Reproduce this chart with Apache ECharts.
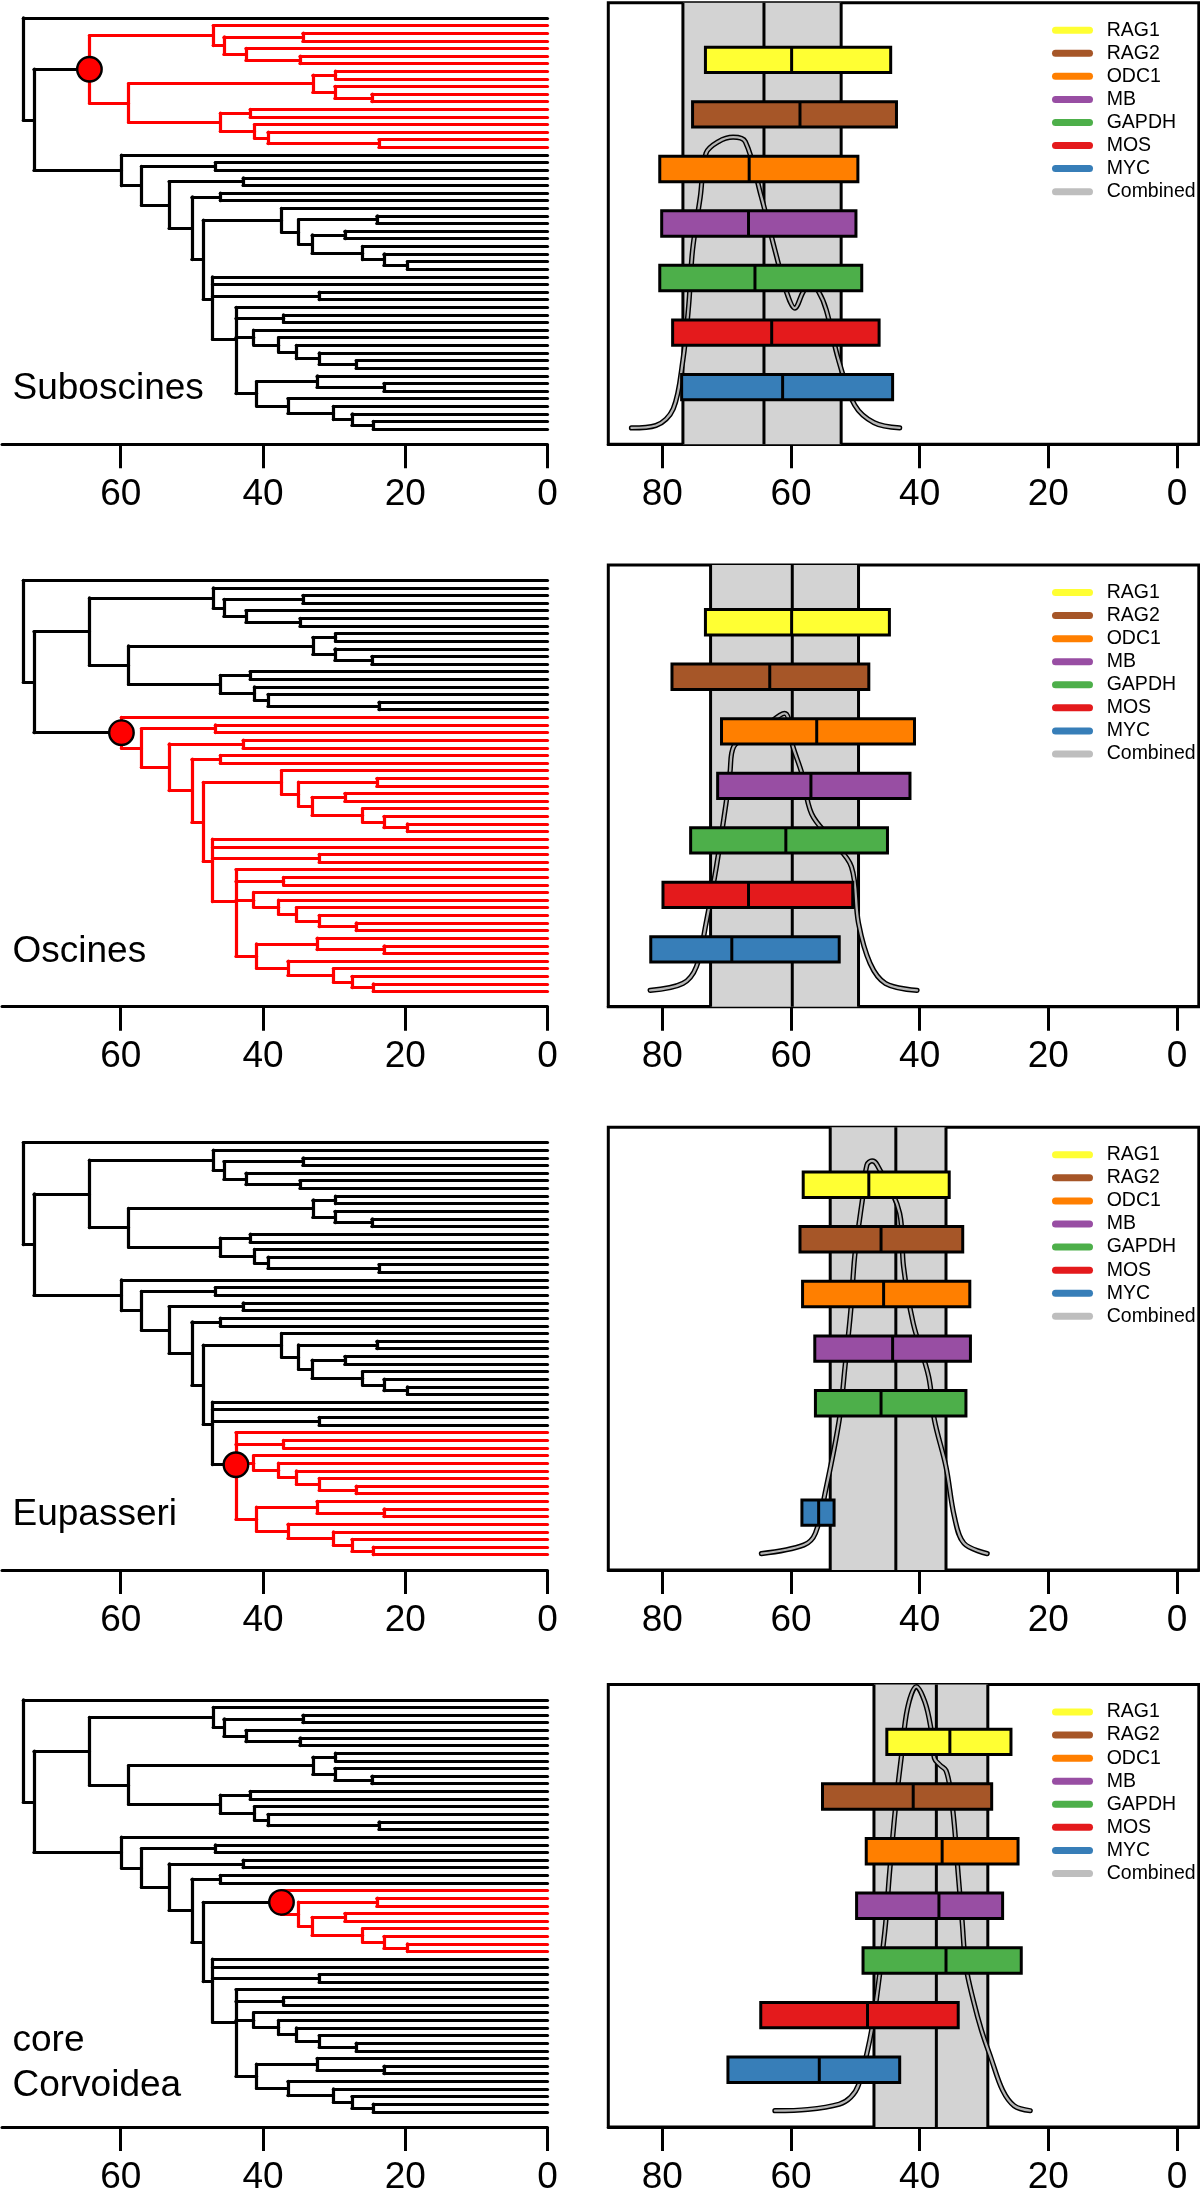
<!DOCTYPE html>
<html><head><meta charset="utf-8">
<script src="https://cdn.jsdelivr.net/npm/echarts@6/dist/echarts.min.js"></script>
<style>html,body{margin:0;padding:0;background:#fff}#c{width:1200px;height:2202px}</style>
</head><body><div id="c"></div><script>
// ---------------- DATA ----------------
// Time-calibrated tree: internal node = [age (Ma), ...children], tip = T
const T = 0;
const tree =
[73.7, T,
  [72.2,
    [64.4,
      [47.0, T,
        [45.5,
          [34.4, T, T],
          [42.4, T, [34.8, T, T]]]],
      [58.9,
        [33.0,
          [29.8, T, T],
          [29.9, T, [24.7, T, T]]],
        [46.0,
          [41.8, T, T],
          [41.2, T, [39.3, T, [23.7, T, T]]]]]],
    [59.9, T,
      [57.1,
        [46.7, T, T],
        [53.2,
          [42.8, T, T],
          [50.0,
            [46.0, T, T],
            [48.4,
              [37.4, T,
                [35.0,
                  [24.0, T, T],
                  [33.1,
                    [28.5, T, T],
                    [26.0, T, [23.0, T, [19.7, T, T]]]]]],
              [47.1, T, T,
                [32.1, T, T],
                [43.8, T,
                  [37.1, T, T],
                  [41.3, T, [37.8, T, [35.3, T, [32.1, T, [26.9, T, T]]]]],
                  [40.9,
                    [32.4, T, [23.0, T, T]],
                    [36.5, T, [30.1, T, [27.5, T, [24.5, T, T]]]]]]]]]]]]]];

const cladeNames = ['Suboscines', 'Oscines', 'Eupasseri', 'core\nCorvoidea'];
const cladeNodeAge = [64.4, 59.9, 43.8, 37.4];

const genes = ['RAG1', 'RAG2', 'ODC1', 'MB', 'GAPDH', 'MOS', 'MYC'];
const geneColors = ['#FFFF33', '#A65628', '#FF7F00', '#984EA3', '#4DAF4A', '#E41A1C', '#377EB8'];
const barPos = [0.9, 0.7667, 0.6333, 0.5, 0.3667, 0.2333, 0.1];
const treeTicks = [0, 20, 40, 60];
const ageTicks = [0, 20, 40, 60, 80];

// gene age estimates: older bound, median, younger bound (Ma)
const subOld   = [73.3, 75.3, 80.4, 80.1, 80.4, 78.4, 77.0];
const subMed   = [59.9, 58.6, 66.5, 66.6, 65.6, 63.0, 61.3];
const subYoung = [44.5, 43.6, 49.6, 49.9, 49.0, 46.3, 44.2];
const oscOld   = [73.3, 78.5, 70.8, 71.4, 75.6, 79.9, 81.8];
const oscMed   = [59.9, 63.3, 56.0, 56.9, 60.8, 66.6, 69.2];
const oscYoung = [44.7, 47.9, 40.8, 41.5, 45.0, 50.4, 52.5];
const eupOld   = [58.1, 58.6, 58.2, 56.3, 56.2, null, 58.3];
const eupMed   = [47.9, 46.0, 45.6, 44.2, 46.0, null, 55.7];
const eupYoung = [35.4, 33.3, 32.2, 32.1, 32.8, null, 53.3];
const corOld   = [45.1, 55.1, 48.3, 49.8, 48.8, 64.7, 69.8];
const corMed   = [35.3, 41.0, 36.5, 37.0, 35.9, 48.1, 55.6];
const corYoung = [25.8, 28.8, 24.7, 27.1, 24.2, 34.0, 43.1];

// combined estimate (grey band): older, median, younger
const combinedOld   = [76.8, 72.5, 53.9, 47.1];
const combinedMed   = [64.2, 59.8, 43.7, 37.4];
const combinedYoung = [52.2, 49.5, 35.9, 29.4];

// combined density curves (age, relative density)
const subDensX = [84.8, 81.0, 78.3, 76.8, 75.9, 75.3, 74.1, 73.2, 71.3, 69.0, 67.1, 64.6, 62.5, 60.7, 59.4, 58.1, 57.0, 55.7, 54.5, 52.6, 50.1, 47.1, 43.1];
const subDensY = [0.000, 0.006, 0.047, 0.166, 0.300, 0.435, 0.565, 0.672, 0.700, 0.711, 0.700, 0.565, 0.435, 0.333, 0.293, 0.333, 0.354, 0.333, 0.288, 0.166, 0.056, 0.013, 0.000];
const oscDensX = [81.9, 76.8, 74.7, 73.2, 71.6, 70.1, 69.5, 68.9, 64.7, 61.0, 59.7, 58.3, 56.8, 53.7, 50.6, 49.5, 47.7, 45.3, 40.4];
const oscDensY = [0.000, 0.017, 0.058, 0.164, 0.302, 0.457, 0.530, 0.596, 0.637, 0.677, 0.596, 0.530, 0.432, 0.368, 0.302, 0.164, 0.066, 0.017, 0.000];
const eupDensX = [64.6, 58.0, 56.2, 54.6, 52.5, 51.6, 50.7, 50.1, 49.2, 48.9, 48.2, 47.4, 46.6, 43.1, 42.5, 41.0, 38.6, 37.7, 35.9, 34.6, 33.1, 29.5];
const eupDensY = [0.000, 0.021, 0.050, 0.155, 0.326, 0.456, 0.594, 0.724, 0.830, 0.863, 0.948, 0.958, 0.948, 0.830, 0.700, 0.562, 0.432, 0.326, 0.212, 0.090, 0.025, 0.000];
const corDensX = [62.5, 57.4, 52.5, 50.7, 49.5, 48.0, 47.1, 46.2, 45.3, 44.7, 43.7, 42.8, 41.9, 40.5, 39.2, 38.3, 37.7, 36.8, 35.9, 35.2, 34.6, 34.0, 33.4, 32.8, 31.6, 30.4, 28.9, 27.1, 25.3, 22.8];
const corDensY = [0.000, 0.003, 0.016, 0.033, 0.063, 0.154, 0.231, 0.335, 0.455, 0.576, 0.748, 0.869, 0.981, 1.035, 0.998, 0.938, 0.860, 0.843, 0.830, 0.780, 0.696, 0.576, 0.464, 0.352, 0.266, 0.197, 0.128, 0.050, 0.012, 0.000];

// ---------------- LAYOUT / STYLE ----------------
const FONT = "'Liberation Sans', Arial, Helvetica, sans-serif";
const rowTop = [2.7, 565, 1127.3, 1684.5];
const rowHeight = [441.6, 441.7, 442.7, 442.6];
const labelCenter = [385.8, 386.8, 387.7, 378.8];
const LW = 3.0;
const TREE_LW = 3.2;
const BAR_HALF = 0.031;

const rows = [
  {old: subOld, med: subMed, young: subYoung, dx: subDensX, dy: subDensY},
  {old: oscOld, med: oscMed, young: oscYoung, dx: oscDensX, dy: oscDensY},
  {old: eupOld, med: eupMed, young: eupYoung, dx: eupDensX, dy: eupDensY},
  {old: corOld, med: corMed, young: corYoung, dx: corDensX, dy: corDensY}
];

// ---------------- TREE LAYOUT ----------------
let tipCounter = 0;
function build(n) {
  if (n === T) return {age: 0, y: tipCounter++, kids: []};
  const kids = n.slice(1).map(build);
  const y = kids.reduce((s, k) => s + k.y, 0) / kids.length;
  return {age: n[0], y: y, kids: kids};
}
const root = build(tree);
const nTips = tipCounter;

function collect(node, hiAge, parentRed, out) {
  if (!node.kids.length) return;
  const red = parentRed || node.age === hiAge;
  if (node.age === hiAge) out.node = node;
  const bucket = red ? out.red : out.black;
  bucket.push({coords: [[node.age, node.kids[0].y], [node.age, node.kids[node.kids.length - 1].y]]});
  node.kids.forEach(k => {
    bucket.push({coords: [[node.age, k.y], [k.age, k.y]]});
    collect(k, hiAge, red, out);
  });
}

// ---------------- OPTION ----------------
const grids = [], xAxes = [], yAxes = [], series = [], legends = [], graphics = [];

function axisCommon(ticks, min, max) {
  return {
    type: 'value', inverse: true, min: min, max: max,
    axisLine: {show: true, onZero: false, lineStyle: {color: '#000', width: LW}},
    axisTick: {show: true, customValues: ticks, length: 24, lineStyle: {color: '#000', width: LW}},
    axisLabel: {show: true, customValues: ticks, color: '#000', fontFamily: FONT, fontSize: 37, lineHeight: 37, margin: 32},
    splitLine: {show: false}
  };
}

function barRender(params, api) {
  const o = api.value(0), m = api.value(1), y = api.value(2), p = api.value(3);
  const a = api.coord([o, p + BAR_HALF]);
  const b = api.coord([y, p - BAR_HALF]);
  const m1 = api.coord([m, p + BAR_HALF]);
  const m2 = api.coord([m, p - BAR_HALF]);
  return {type: 'group', children: [
    {type: 'rect', shape: {x: Math.min(a[0], b[0]), y: Math.min(a[1], b[1]), width: Math.abs(b[0] - a[0]), height: Math.abs(b[1] - a[1])},
     style: {fill: api.visual('color'), stroke: '#000', lineWidth: LW}},
    {type: 'line', shape: {x1: m1[0], y1: m1[1], x2: m2[0], y2: m2[1]}, style: {stroke: '#000', lineWidth: LW}}
  ]};
}

function bandRender(params, api) {
  const cs = params.coordSys;
  const xs = [0, 1, 2].map(i => api.coord([api.value(i), 0])[0]);
  const l = Math.min(xs[0], xs[2]), r = Math.max(xs[0], xs[2]);
  const ch = [{type: 'rect', shape: {x: l, y: cs.y, width: r - l, height: cs.height}, style: {fill: '#D3D3D3'}}];
  xs.forEach(x => ch.push({type: 'line', shape: {x1: x, y1: cs.y, x2: x, y2: cs.y + cs.height}, style: {stroke: '#000', lineWidth: LW}}));
  return {type: 'group', children: ch};
}

const stadium = 'path://M3.5,0 L37.5,0 A3.5,3.5 0 0 1 37.5,7 L3.5,7 A3.5,3.5 0 0 1 3.5,0 Z';

rows.forEach((row, r) => {
  const gT = 2 * r, gR = 2 * r + 1;
  grids.push({left: 2, top: rowTop[r], width: 545.5, height: rowHeight[r], show: false});
  grids.push({left: 608.3, top: rowTop[r], width: 590.5, height: rowHeight[r], show: true,
              borderColor: '#000', borderWidth: LW, backgroundColor: 'transparent'});
  xAxes.push(Object.assign({gridIndex: gT}, axisCommon(treeTicks, 0, 76.69)));
  xAxes.push(Object.assign({gridIndex: gR}, axisCommon(ageTicks, -3.4, 88.4)));
  yAxes.push({gridIndex: gT, type: 'value', inverse: true, min: -2.0, max: nTips - 1 + 2.0, show: false});
  yAxes.push({gridIndex: gR, type: 'value', min: -0.04, max: 1.04, show: false});

  // tree
  const out = {black: [], red: [], node: null};
  collect(root, cladeNodeAge[r], false, out);
  series.push({type: 'lines', coordinateSystem: 'cartesian2d', xAxisIndex: gT, yAxisIndex: gT, silent: true, z: 2,
               lineStyle: {color: '#000', width: TREE_LW, opacity: 1, cap: 'round'}, data: out.black});
  series.push({type: 'lines', coordinateSystem: 'cartesian2d', xAxisIndex: gT, yAxisIndex: gT, silent: true, z: 3,
               lineStyle: {color: '#FF0000', width: TREE_LW, opacity: 1, cap: 'round'}, data: out.red});
  series.push({type: 'scatter', xAxisIndex: gT, yAxisIndex: gT, silent: true, z: 4, symbolSize: 24.5,
               itemStyle: {color: '#FF0000', borderColor: '#000', borderWidth: 2.4, opacity: 1},
               data: [[out.node.age, out.node.y]]});

  // combined band
  series.push({type: 'custom', xAxisIndex: gR, yAxisIndex: gR, silent: true, z: 1, renderItem: bandRender,
               data: [[combinedOld[r], combinedMed[r], combinedYoung[r]]]});
  // density (double line)
  const dens = row.dx.map((x, i) => [x, row.dy[i]]);
  series.push({type: 'line', name: 'densOutline', xAxisIndex: gR, yAxisIndex: gR, silent: true, z: 3, symbol: 'none',
               smooth: 0.35, data: dens, lineStyle: {color: '#000', width: 5.2, cap: 'round'}, itemStyle: {color: '#000'}});
  series.push({type: 'line', name: 'Combined', xAxisIndex: gR, yAxisIndex: gR, silent: true, z: 4, symbol: 'none',
               smooth: 0.35, data: dens, lineStyle: {color: '#B5B5B5', width: 2.3, cap: 'round'}, itemStyle: {color: '#BEBEBE'}});
  // gene bars
  genes.forEach((g, i) => {
    const d = row.old[i] == null ? [] : [[row.old[i], row.med[i], row.young[i], barPos[i]]];
    series.push({type: 'custom', name: g, xAxisIndex: gR, yAxisIndex: gR, silent: true, z: 5,
                 itemStyle: {color: geneColors[i]}, renderItem: barRender, data: d});
  });

  legends.push({
    orient: 'vertical', left: 1047, top: rowTop[r] + 12.5, itemWidth: 41, itemHeight: 7, itemGap: 3.07,
    selectedMode: false, icon: stadium,
    textStyle: {fontFamily: FONT, fontSize: 19.5, color: '#000', lineHeight: 20, padding: [0, 0, 0, 8.7]},
    data: genes.map((g, i) => ({name: g, icon: stadium, itemStyle: {color: geneColors[i], borderWidth: 0}}))
      .concat([{name: 'Combined', icon: stadium, itemStyle: {color: '#BEBEBE', borderWidth: 0}}])
  });

  graphics.push({type: 'text', x: 12.5, y: rowTop[r] + labelCenter[r], silent: true,
    style: {text: cladeNames[r], fill: '#000', font: '37px ' + FONT, fontSize: 37, fontFamily: FONT,
            lineHeight: 44.6, textAlign: 'left', align: 'left', textVerticalAlign: 'middle', verticalAlign: 'middle'}});
});

const chart = echarts.init(document.getElementById('c'), null, {renderer: 'canvas'});
chart.setOption({
  animation: false,
  backgroundColor: '#fff',
  textStyle: {fontFamily: FONT},
  grid: grids, xAxis: xAxes, yAxis: yAxes, series: series, legend: legends, graphic: graphics
});
</script></body></html>
